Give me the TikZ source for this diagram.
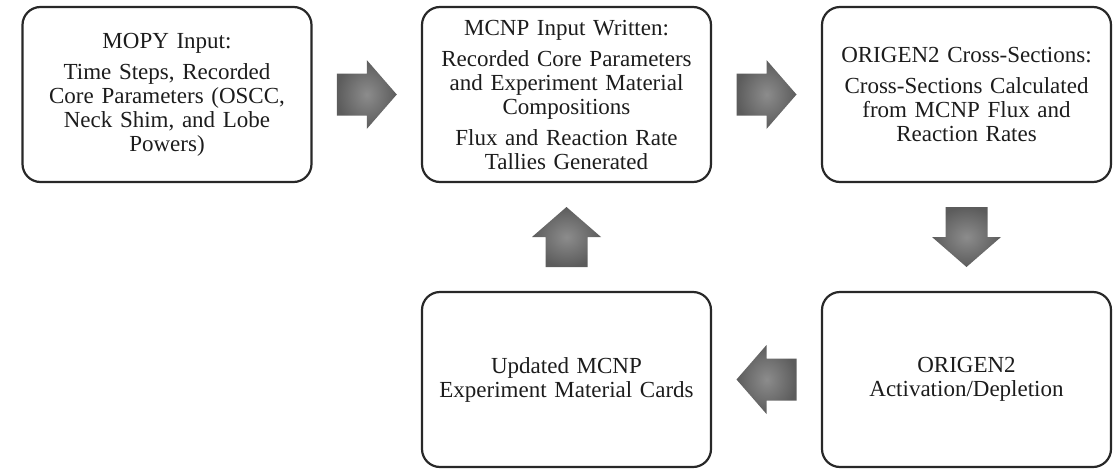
\documentclass[tikz,border=0pt]{standalone}
\usepackage{fontspec}
\setmainfont{Liberation Serif}
\usetikzlibrary{calc}
\definecolor{boxline}{RGB}{40,40,40}
\definecolor{textcol}{RGB}{28,28,28}
\definecolor{arrowin}{RGB}{140,140,140}
\definecolor{arrowout}{RGB}{92,92,92}

\begin{document}
\begin{tikzpicture}[x=1pt,y=-1pt,
    box/.style={draw=boxline, line width=2.2pt, rounded corners=18pt, minimum width=289pt, minimum height=175pt, text width=275pt, align=center, text=textcol, font=\fontsize{23}{24}\selectfont},
    fat/.pic={\shade[inner color=arrowin, outer color=arrowout] (-30,-21) -- (0,-21) -- (0,-34.5) -- (30,0) -- (0,34.5) -- (0,21) -- (-30,21) -- cycle;}]
    \useasboundingbox (0,0) rectangle (1120,469);
    \node[box] (mopy) at (167,94.5) {MOPY Input:\\[7pt] Time Steps, Recorded\\ Core Parameters (OSCC,\\ Neck Shim, and Lobe\\ Powers)};
    \node[box] (mcnp) at (566.5,94.5) {MCNP Input Written:\\[7pt] Recorded Core Parameters\\ and Experiment Material\\ Compositions\\[7pt] Flux and Reaction Rate\\ Tallies Generated};
    \node[box] (xs) at (966.5,94.5) {ORIGEN2 Cross-Sections:\\[7pt] Cross-Sections Calculated\\ from MCNP Flux and\\ Reaction Rates};
    \node[box] (act) at (966.5,379.5) {ORIGEN2\\ Activation/Depletion};
    \node[box] (upd) at (566.5,379.5) {Updated MCNP\\ Experiment Material Cards};
    \pic at ($(mopy.east)!0.5!(mcnp.west)$) {fat};
    \pic at ($(mcnp.east)!0.5!(xs.west)$) {fat};
    \pic[rotate=-90] at ($(xs.south)!0.5!(act.north)$) {fat};
    \pic[rotate=180] at ($(act.west)!0.5!(upd.east)$) {fat};
    \pic[rotate=90] at ($(upd.north)!0.5!(mcnp.south)$) {fat};
\end{tikzpicture}
\end{document}
